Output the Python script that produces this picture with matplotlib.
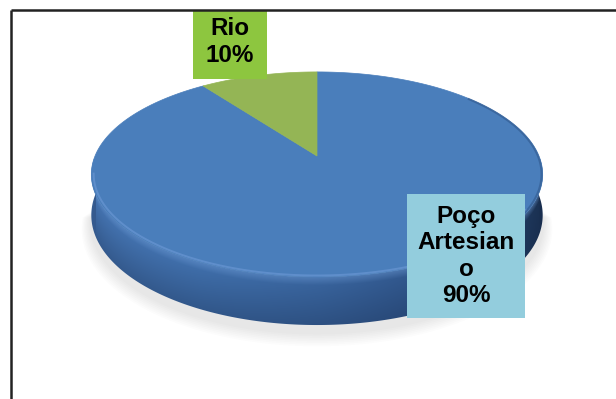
import numpy as np
import matplotlib
matplotlib.use('Agg')
from matplotlib import pyplot as plt
from matplotlib.patches import Polygon
from matplotlib.colors import to_rgb

# data
categories = ['Poço Artesiano', 'Rio']
values = [90, 10]
label_lines = ['Poço\nArtesian\no', 'Rio']
top_colors = ['#4A7EBB', '#94B555']
box_colors = ['#93CDDD', '#8DC63F']

W, H = 616, 399
fig = plt.figure(figsize=(W / 100, H / 100), dpi=100)
ax = fig.add_axes([0, 0, 1, 1])
ax.set_xlim(0, W)
ax.set_ylim(H, 0)
ax.axis('off')

# pie geometry (pixel space, simple perspective)
cx, cy = 317, 156
A, B, k = 222, 99.2, 0.18
depth = 39.4


def proj(theta, r=1.0, drop=0.0):
    t = np.radians(theta)
    x = r * np.cos(t)
    y = r * np.sin(t)
    s = 1.0 / (1.0 + k * y)
    return cx + A * x * s, cy - B * y * s + drop * s


# soft shadow under the pie
th = np.linspace(185, 355, 120)
for i in range(8):
    g = 2 + 1.6 * i
    pts = [proj(t, r=1.0 + g / 320.0, drop=depth + 6 + g * 0.45) for t in th]
    ax.add_patch(Polygon(pts, closed=True, fc='#808080', ec='none', alpha=0.025, zorder=1))

# side of the cylinder (front half), gradient clipped to its outline
angs = np.linspace(180, 360, 361)
top_edge = [proj(t) for t in angs]
bot_edge = [proj(t, drop=depth) for t in angs]
side = Polygon(top_edge + bot_edge[::-1], closed=True, fc='none', ec='none', zorder=2)
ax.add_patch(side)

tx = np.array([p[0] for p in top_edge])
ty = np.array([p[1] for p in top_edge])
by = np.array([p[1] for p in bot_edge])
order = np.argsort(tx)
xs = np.arange(80, 560)
yt = np.interp(xs, tx[order], ty[order])
yb = np.interp(xs, tx[order], by[order])
ys = np.arange(160, 340)
XX, YY = np.meshgrid(xs, ys)
F = np.clip((YY - yt[None, :]) / np.maximum(yb - yt, 1)[None, :], 0, 1)

stops_x = [90, 200, 320, 440, 500, 545]
stops_c = ['#4676B4', '#4171AE', '#3A66A0', '#30568C', '#24426C', '#1A3050']
rgb = np.array([to_rgb(c) for c in stops_c])
base = np.stack([np.interp(xs, stops_x, rgb[:, j]) for j in range(3)], axis=-1)
img = np.broadcast_to(base[None, :, :], (len(ys), len(xs), 3)).copy()
dark = np.array(to_rgb('#16294a'))
light = np.array(to_rgb('#6F9BD4'))
shade = 0.35 * F[..., None]
img = img * (1 - shade) + dark * shade
hl = np.clip(1 - F / 0.18, 0, 1)[..., None] * 0.45
img = img * (1 - hl) + light * hl
im = ax.imshow(img, extent=(xs[0] - 0.5, xs[-1] + 0.5, ys[-1] + 0.5, ys[0] - 0.5),
               interpolation='bilinear', zorder=2, aspect='auto')
im.set_clip_path(side)
ax.set_xlim(0, W)
ax.set_ylim(H, 0)

# top face wedges (clockwise from 12 o'clock)
frac = np.cumsum([0] + values) / float(sum(values))
for i in range(len(values)):
    t1 = 90 - 360 * frac[i]
    t2 = 90 - 360 * frac[i + 1]
    th = np.linspace(t1, t2, 200)
    pts = [(cx, cy)] + [proj(t) for t in th]
    ax.add_patch(Polygon(pts, closed=True, fc=top_colors[i], ec=top_colors[i],
                         lw=0.5, zorder=3))

# rim shading on top face
th = np.linspace(190, 330, 150)
rx, ry = zip(*[proj(t, r=0.99) for t in th])
ax.plot(rx, ry, color='#6E9AD6', lw=1.4, alpha=0.6, zorder=4)
th = np.linspace(-40, 40, 80)
rx, ry = zip(*[proj(t, r=0.995) for t in th])
ax.plot(rx, ry, color='#2C5184', lw=1.5, alpha=0.5, zorder=4)

# data labels
font = dict(family=['Liberation Sans', 'DejaVu Sans'], fontsize=17.5,
            fontweight='bold', color='black', ha='center', va='center',
            linespacing=1.2, zorder=6)
pcts = ['%d%%' % round(100.0 * v / sum(values)) for v in values]
ax.text(466, 256, label_lines[0] + '\n' + pcts[0],
        bbox=dict(boxstyle='square,pad=0.42', fc=box_colors[0], ec='none'), **font)
ax.text(230, 42, label_lines[1] + '\n' + pcts[1],
        bbox=dict(boxstyle='square,pad=0.52', fc=box_colors[1], ec='none'), **font)

# frame (top and left visible)
ax.add_patch(plt.Rectangle((0, 0), 11, H, fc='white', ec='none', zorder=7))
ax.add_patch(plt.Rectangle((0, 0), W, 10, fc='white', ec='none', zorder=7))
ax.plot([11, 11], [10, H], color='#222222', lw=1.8, zorder=8, solid_capstyle='butt')
ax.plot([11, W], [10, 10], color='#222222', lw=1.8, zorder=8, solid_capstyle='butt')

fig.savefig('out.png', dpi=100, facecolor='white')
